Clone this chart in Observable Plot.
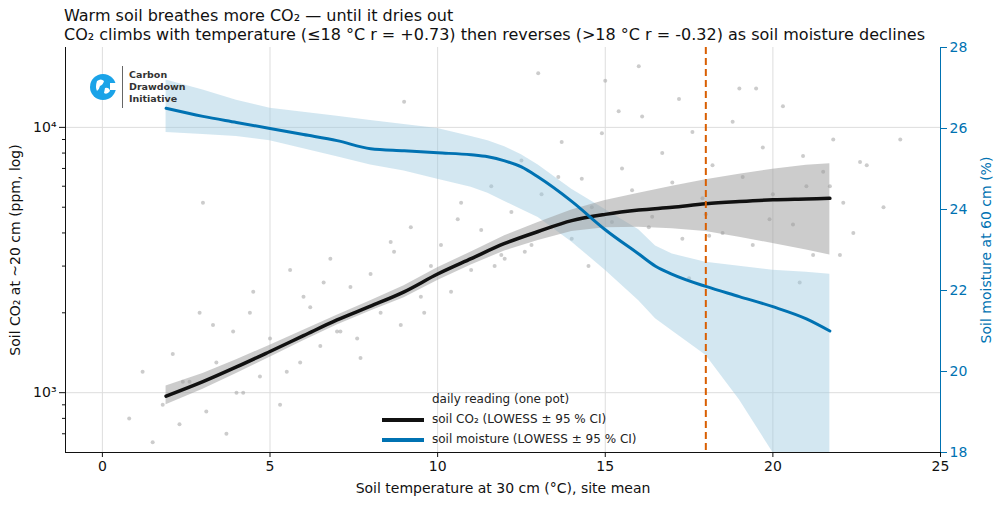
<!DOCTYPE html>
<html><head><meta charset="utf-8">
<script src="https://cdn.jsdelivr.net/npm/d3@7"></script>
<script src="https://cdn.jsdelivr.net/npm/@observablehq/plot@0.6"></script>
<style>
body{margin:0;background:#fff;font-family:"DejaVu Sans",sans-serif;}
#wrap{position:relative;width:1000px;height:505px;}
.t{position:absolute;left:64px;font-size:16px;color:#111;white-space:nowrap;}
#legend{position:absolute;left:382px;top:389px;font-size:12px;color:#222;line-height:20px;}
#legend .sw{display:inline-block;width:42px;height:4px;vertical-align:middle;margin-right:8px;}
#logo{position:absolute;left:88px;top:66px;display:flex;align-items:center;}
</style></head><body>
<div id="wrap">
<div class="t" style="top:6px">Warm soil breathes more CO₂ — until it dries out</div>
<div class="t" style="top:25px">CO₂ climbs with temperature (≤18 °C r = +0.73) then reverses (>18 °C r = -0.32) as soil moisture declines</div>
<div id="chart"></div>
<div id="logo">
<svg width="30" height="30" viewBox="0 0 30 30"><circle cx="15" cy="15" r="13" fill="#1aa3e8"/><path d="M9 9 q4 -3 7 0 q-1 4 -4 5 q-1 4 -3 5 q-2 -4 0 -10z M17 16 q4 -1 5 3 q-3 4 -6 2z" fill="#fff"/><rect x="22" y="11" width="8" height="7" fill="#fff"/></svg>
<div style="width:1px;height:42px;background:#666;margin:0 6px 0 4px"></div>
<div style="font-size:9.5px;font-weight:bold;color:#333;line-height:12px">Carbon<br>Drawdown<br>Initiative</div>
</div>
<div id="legend">
<div><span class="sw" style="background:none"></span>daily reading (one pot)</div>
<div><span class="sw" style="background:#111"></span>soil CO₂ (LOWESS ± 95 % CI)</div>
<div><span class="sw" style="background:#0072b2"></span>soil moisture (LOWESS ± 95 % CI)</div>
</div>
</div>
<script>
const co2X   = [1.9, 3, 4, 5, 6, 7, 8, 9, 10, 11, 12, 13, 14, 15, 16, 17, 18, 19, 20, 21, 21.7];
const co2Y   = [970,1100,1250,1430,1640,1880,2120,2400,2800,3200,3650,4050,4450,4700,4880,5000,5150,5250,5330,5370,5400];
const co2Lo  = [900,1030,1180,1360,1570,1800,2030,2280,2650,3030,3420,3750,4050,4180,4200,4150,4050,3850,3650,3450,3300];
const co2Hi  = [1060,1180,1330,1510,1720,1960,2220,2530,2960,3390,3900,4380,4880,5300,5650,6000,6350,6650,6950,7200,7300];
const mX     = [1.9, 3, 4, 5, 6, 7, 8, 9, 10, 11, 11.5, 12, 12.5, 13, 14, 15, 16, 16.5, 17, 18, 19, 20, 21, 21.7];
const mY     = [26.5,26.3,26.15,26.0,25.85,25.7,25.5,25.45,25.4,25.35,25.3,25.2,25.05,24.8,24.2,23.5,22.9,22.6,22.4,22.1,21.85,21.6,21.3,21.0];
const mLo    = [25.9,25.85,25.8,25.7,25.5,25.3,25.1,24.95,24.75,24.55,24.4,24.2,24.0,23.8,23.2,22.5,21.75,21.3,21.0,20.4,19.3,18.0,16.5,16.0];
const mHi    = [27.2,26.95,26.7,26.5,26.4,26.3,26.2,26.1,26.0,25.8,25.7,25.55,25.35,25.1,24.5,24.0,23.5,23.1,22.9,22.7,22.6,22.5,22.45,22.4];
const ptsT = [0.8,1.2,1.5,1.8,2.1,2.3,2.6,2.9,3.1,3.4,3.7,3.9,4.2,4.5,4.7,5.0,5.3,5.6,5.9,6.2,6.5,6.8,7.1,7.4,7.7,8.0,8.3,8.6,8.9,9.2,9.5,9.8,10.1,10.4,10.7,11.0,11.3,11.6,11.9,12.2,12.5,12.8,13.1,13.4,13.7,14.0,14.3,14.6,14.9,15.2,15.5,15.8,16.1,16.4,16.7,17.0,17.3,17.6,17.9,18.2,18.5,18.8,19.1,19.4,19.7,20.0,20.3,20.6,20.9,21.2,21.5,21.8,22.1,22.4,22.8,23.3,23.8,2.4,3.3,4.4,5.5,6.6,7.6,8.7,9.6,10.6,11.7,12.6,13.6,14.5,15.4,16.3,17.2,18.1,19.0,19.9,20.8,21.7,22.6,3.0,6.0,9.0,12.0,15.0,18.0,21.0,16.0,19.5,13.0,7.0,4.0,22.0,17.5];
const ptsC = [800,1200,650,900,1400,760,1100,2000,850,1300,700,1700,1000,2400,1150,1600,900,2900,1300,2100,1500,3200,1700,2500,1350,2800,2000,3700,1800,4200,2300,3000,3600,2400,5200,2900,4100,6000,3300,4800,7500,3600,5600,4200,8800,3800,6400,5000,9500,4400,7000,5800,11000,4600,8000,6200,3800,9600,5400,7200,4000,10500,6500,3600,8400,5600,12000,4300,7800,3300,6800,9000,5200,4000,7200,5000,9000,1100,1800,2000,1200,2600,1600,3400,2000,4500,3000,3400,6500,3000,11500,4200,12800,3900,14000,4500,2600,6000,7400,5200,2300,12500,3200,15000,4700,6000,17000,14000,16000,1700,1000,3300,2700];
const lg0=Math.log10(595), lg1=Math.log10(20000);
const toY = m => Math.pow(10, lg0 + (m-18)/10*(lg1-lg0));
const band = (xs, lo, hi) => xs.map((x,i)=>({x, lo:lo[i], hi:hi[i]}));
const co2Band = band(co2X, co2Lo, co2Hi);
const mBand = band(mX, mLo.map(toY), mHi.map(toY));
const co2Line = co2X.map((x,i)=>({x,y:co2Y[i]}));
const mLine = mX.map((x,i)=>({x,y:toY(mY[i])}));
const pts = ptsT.map((t,i)=>({x:t,y:ptsC[i]}));
const rTicks=[18,20,22,24,26,28];
const sup={3:"³",4:"⁴"};
const plot = Plot.plot({
  width:1000, height:505, marginTop:47, marginBottom:53, marginLeft:65, marginRight:60,
  style:{fontFamily:"DejaVu Sans, sans-serif", fontSize:"14px", color:"#111"},
  x:{domain:[-1.1,25], ticks:[0,5,10,15,20,25]},
  y:{type:"log", domain:[595,20000]},
  marks:[
    Plot.gridX([0,5,10,15,20,25],{stroke:"#ddd",strokeOpacity:1}),
    Plot.gridY([1000,10000],{stroke:"#ddd",strokeOpacity:1}),
    Plot.dot(pts,{x:"x",y:"y",r:2,fill:"#aaa",fillOpacity:0.6,stroke:null,clip:true}),
    Plot.areaY(mBand,{x:"x",y1:"lo",y2:"hi",fill:"#9ecae1",fillOpacity:0.45,clip:true}),
    Plot.areaY(co2Band,{x:"x",y1:"lo",y2:"hi",fill:"#999",fillOpacity:0.5,clip:true}),
    Plot.line(co2Line,{x:"x",y:"y",stroke:"#111",strokeWidth:3.5,curve:"monotone-x"}),
    Plot.line(mLine,{x:"x",y:"y",stroke:"#0072b2",strokeWidth:3,curve:"monotone-x",clip:true}),
    Plot.ruleX([18],{stroke:"#d95f02",strokeWidth:2,strokeDasharray:"7,4"}),
    Plot.axisX({ticks:[0,5,10,15,20,25],tickSize:5,fontSize:14,label:"Soil temperature at 30 cm (°C), site mean",labelAnchor:"center",labelArrow:"none",labelOffset:40}),
    Plot.axisY({ticks:[1000,10000],tickFormat:d=>"10"+sup[Math.round(Math.log10(d))],tickSize:6,fontSize:14,label:"Soil CO₂ at ~20 cm (ppm, log)",labelAnchor:"center",labelArrow:"none",labelOffset:55}),
    Plot.axisY({ticks:[700,800,900,2000,3000,4000,5000,6000,7000,8000,9000],tickFormat:()=>"",tickSize:3}),
    Plot.axisY({anchor:"right",ticks:rTicks.map(toY),tickFormat:d=>String(rTicks.find(r=>Math.abs(toY(r)-d)<1e-6*d)),tickSize:6,fontSize:14,color:"#0072b2",stroke:"#0072b2",label:"Soil moisture at 60 cm (%)",labelAnchor:"center",labelArrow:"none",labelOffset:50}),
    Plot.ruleY([595],{stroke:"#111"}),
    Plot.ruleX([-1.1],{stroke:"#111"}),
    Plot.ruleX([25],{stroke:"#0072b2"})
  ]
});
document.getElementById("chart").append(plot);
</script>
</body></html>
